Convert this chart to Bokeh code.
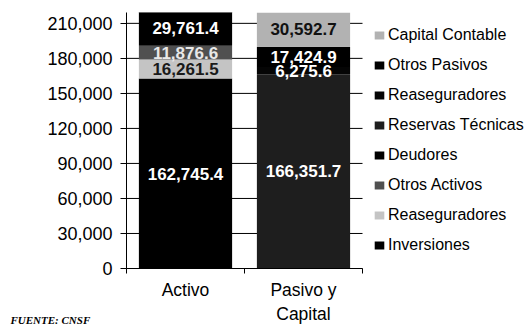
from bokeh.plotting import figure
from bokeh.models import (FixedTicker, LegendItem, Legend, Label, ColumnDataSource,
                          NumeralTickFormatter, Range1d)
from bokeh.core.properties import value
from bokeh.embed import file_html
from bokeh.resources import INLINE

# ---------------- data ----------------
categories = ["Activo", "Pasivo y\nCapital"]
series_names = ["Inversiones", "Reaseguradores", "Otros Activos", "Deudores",
                "Reservas Técnicas", "Reaseguradores", "Otros Pasivos", "Capital Contable"]
inversiones = [162745.4, 0.0]
reaseguradores_activo = [16261.5, 0.0]
otros_activos = [11876.6, 0.0]
deudores = [29761.4, 0.0]
reservas_tecnicas = [0.0, 166351.7]
reaseguradores_pasivo = [0.0, 6275.6]
otros_pasivos = [0.0, 17424.9]
capital_contable = [0.0, 30592.7]
y_ticks = [0, 30000, 60000, 90000, 120000, 150000, 180000, 210000]
source_note = "FUENTE: CNSF"

series_values = [inversiones, reaseguradores_activo, otros_activos, deudores,
                 reservas_tecnicas, reaseguradores_pasivo, otros_pasivos, capital_contable]
fill_colors = ["#000000", "#c4c4c4", "#505050", "#000000",
               "#1e1e1e", "#050505", "#000000", "#b2b2b2"]
label_colors = ["#ffffff", "#1a1a1a", "#e8e8e8", "#ffffff",
                "#ffffff", "#ffffff", "#ffffff", "#111111"]

# ---------------- figure ----------------
W, H = 531, 327
LEFT = 126            # left border (y axis)
CAT_W = 118           # pixels per category
NOTE_H = 11           # height taken by the note panel above the frame
BOTTOM = 59           # x axis panel
FRAME_BOTTOM = H - BOTTOM
FRAME_H = H - NOTE_H - BOTTOM
PX_PER_UNIT = 259 / 221000.0
n_cat = len(categories)
x_end = (W - LEFT) / CAT_W   # frame extends to the right edge (legend lives inside)
y_end = FRAME_H / PX_PER_UNIT

p = figure(width=W, height=H, output_backend="svg", toolbar_location=None,
           x_range=Range1d(0, x_end), y_range=Range1d(0, y_end),
           min_border_left=LEFT, min_border_right=0,
           min_border_top=0, min_border_bottom=BOTTOM)
p.outline_line_color = None
p.background_fill_color = "white"
p.border_fill_color = "white"
p.xgrid.visible = False
p.ygrid.visible = False

# horizontal grid lines, only across the category area
p.segment(x0=[0] * len(y_ticks), x1=[n_cat] * len(y_ticks), y0=y_ticks, y1=y_ticks,
          line_color="black", line_width=1)

xs = [i + 0.5 for i in range(n_cat)]
keys = [f"s{i}" for i in range(len(series_values))]
data = {"x": xs}
for k, v in zip(keys, series_values):
    data[k] = v
src = ColumnDataSource(data)

renderers = p.vbar_stack(keys, x="x", width=0.79, fill_color=fill_colors,
                         line_color=None, source=src)

# value labels in the middle of each segment
lx, ly, lt, lc = [], [], [], []
bottoms = [0.0] * n_cat
for vals, col in zip(series_values, label_colors):
    for ci, v in enumerate(vals):
        if v > 0:
            lx.append(xs[ci])
            ly.append(bottoms[ci] + v / 2)
            lt.append(f"{v:,.1f}")
            lc.append(col)
        bottoms[ci] += v
p.text(x=lx, y=ly, text=lt, text_color=lc, text_align="center", text_baseline="middle",
       text_font=value("Liberation Sans"), text_font_size="17px", text_font_style="bold")

# y axis
p.yaxis.ticker = FixedTicker(ticks=y_ticks)
p.yaxis.formatter = NumeralTickFormatter(format="0,0")
p.yaxis.major_label_text_font = "Liberation Sans"
p.yaxis.major_label_text_font_size = "18px"
p.yaxis.major_label_text_color = "black"
p.yaxis.major_tick_out = 6
p.yaxis.major_tick_in = 0
p.yaxis.minor_tick_line_color = None
p.yaxis.axis_line_color = "black"
p.yaxis.major_tick_line_color = "black"
p.yaxis.major_label_standoff = 8

# x axis (only over the category area)
p.xaxis.bounds = (0, n_cat)
p.xaxis.ticker = FixedTicker(ticks=xs, minor_ticks=list(range(n_cat + 1)))
p.xaxis.major_label_overrides = {x: c for x, c in zip(xs, categories)}
p.xaxis.major_tick_out = 0
p.xaxis.major_tick_in = 0
p.xaxis.minor_tick_out = 5
p.xaxis.minor_tick_in = 0
p.xaxis.minor_tick_line_color = "black"
p.xaxis.axis_line_color = "black"
p.xaxis.major_label_text_font = "Liberation Sans"
p.xaxis.major_label_text_font_size = "17.5px"
p.xaxis.major_label_text_color = "black"
p.xaxis.major_label_standoff = 6

# legend (reverse order, separate entries for the duplicate name)
items = [LegendItem(label=n, renderers=[r]) for n, r in zip(series_names, renderers)][::-1]
legend = Legend(items=items, location=(247, 10), orientation="vertical",
                glyph_width=12, glyph_height=10, label_standoff=3,
                label_height=26, spacing=4, padding=0, margin=0,
                label_text_font="Liberation Sans", label_text_font_size="16px",
                label_text_color="black", border_line_color=None,
                background_fill_alpha=0)
p.add_layout(legend, "center")

# source note: placed in the (thin) top panel, drawn down at the bottom-left corner
note = Label(x=10 - LEFT, y=NOTE_H - 318, x_units="screen", y_units="screen", text=source_note,
             text_font="Liberation Serif", text_font_size="11px",
             text_font_style="bold italic", text_baseline="middle", text_color="black")
p.add_layout(note, "above")

open("out.html", "w").write(file_html(p, INLINE))
